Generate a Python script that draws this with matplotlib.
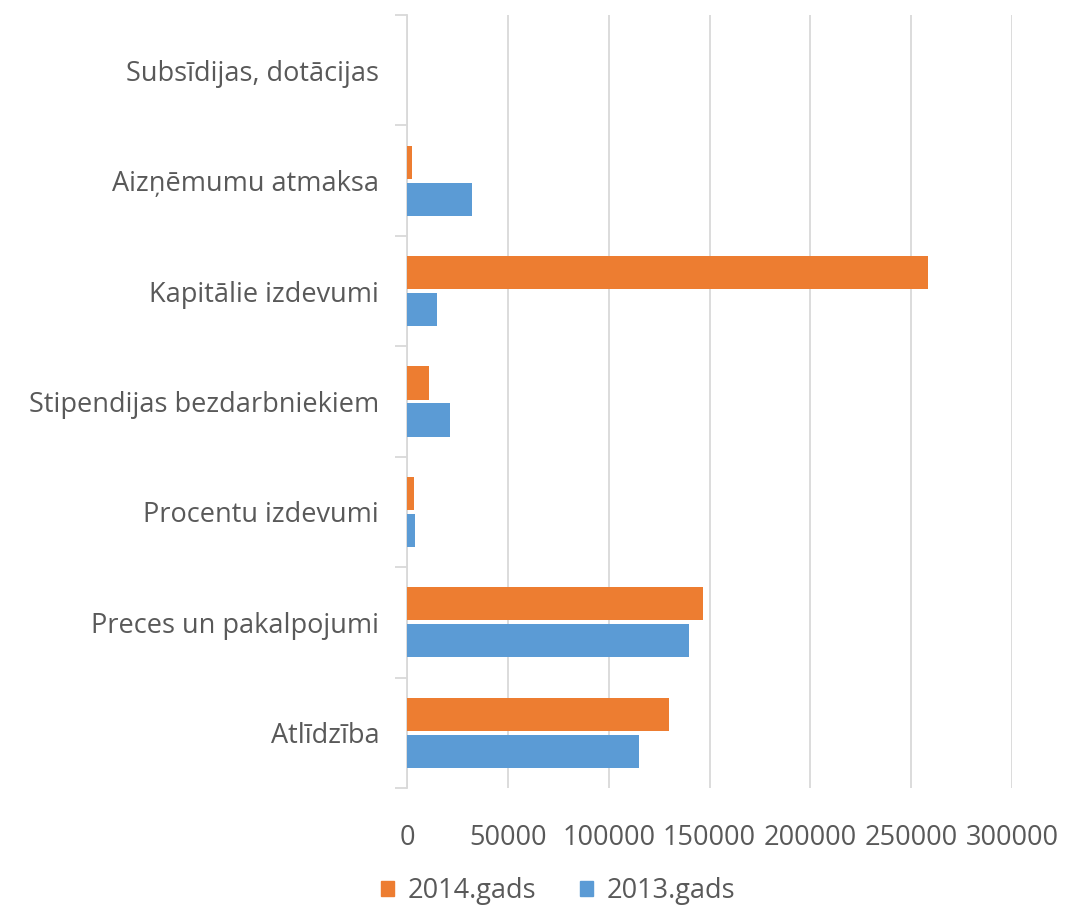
import matplotlib
matplotlib.use("Agg")
import matplotlib.pyplot as plt
from matplotlib.patches import Patch
import numpy as np

categories = ["Atlīdzība", "Preces un pakalpojumi", "Procentu izdevumi",
              "Stipendijas bezdarbniekiem", "Kapitālie izdevumi",
              "Aizņēmumu atmaksa", "Subsīdijas, dotācijas"]
values_2014 = [130000, 146700, 3500, 11000, 258400, 2600, 0]
values_2013 = [115000, 139800, 4100, 21500, 15000, 32000, 0]
series_names = ["2014.gads", "2013.gads"]
xticks = [0, 50000, 100000, 150000, 200000, 250000, 300000]

ORANGE = "#ED7D31"
BLUE = "#5B9BD5"
TEXT = "#595959"
GRID = "#D9D9D9"

plt.rcParams['font.family'] = ['Open Sans', 'DejaVu Sans']

fig = plt.figure(figsize=(10.65, 9.08), dpi=100)
ax = fig.add_axes([407/1065, 1-788/908, (1012-407)/1065, (788-15)/908])

y = np.arange(len(categories))
h = 0.3
ax.barh(y + h/2 + 0.017, values_2014, height=h, color=ORANGE, linewidth=0, zorder=3)
ax.barh(y - h/2 - 0.017, values_2013, height=h, color=BLUE, linewidth=0, zorder=3)

ax.set_xlim(0, 300000)
ax.set_ylim(-0.5, len(categories) - 0.5)
ax.set_xticks(xticks)
ax.set_xticklabels([str(v) for v in xticks], fontsize=19.5, color=TEXT)
ax.tick_params(axis='x', length=0, pad=26)
ax.xaxis.grid(True, color=GRID, linewidth=1.3, zorder=0)

ax.set_yticks(y)
ax.set_yticklabels(categories, fontsize=19.5, color=TEXT)
ax.tick_params(axis='y', which='major', length=0, pad=20)
ax.set_yticks(np.arange(len(categories) + 1) - 0.5, minor=True)
ax.tick_params(axis='y', which='minor', length=9, color=GRID, width=1.3)

for s in ["top", "right", "bottom"]:
    ax.spines[s].set_visible(False)
ax.spines["left"].set_color(GRID)
ax.spines["left"].set_linewidth(1.3)

handles = [Patch(color=ORANGE, label=series_names[0]), Patch(color=BLUE, label=series_names[1])]
fig.legend(handles=handles, loc="center", bbox_to_anchor=(0.524, 1-891/908), ncol=2,
           frameon=False, fontsize=19.5, labelcolor=TEXT, handlelength=0.5, handleheight=0.5,
           columnspacing=1.6, handletextpad=0.5)

fig.savefig("out.png", dpi=100)
